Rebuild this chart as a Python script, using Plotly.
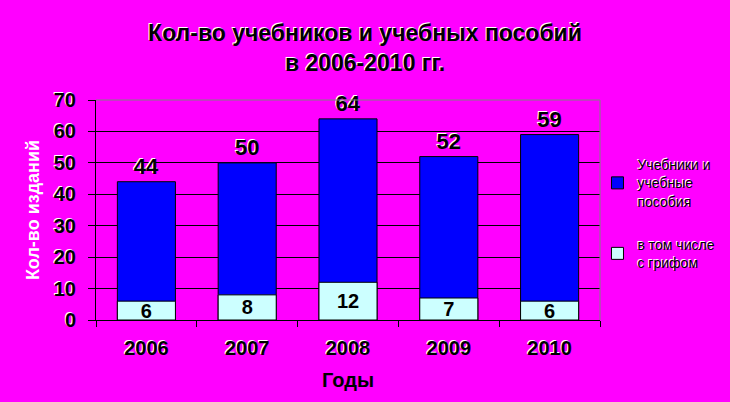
import plotly.graph_objects as go

years = ["2006", "2007", "2008", "2009", "2010"]
total_books = [44, 50, 64, 52, 59]
with_stamp = [6, 8, 12, 7, 6]
y_ticks = [0, 10, 20, 30, 40, 50, 60, 70]

FONT = "Liberation Sans, Arial, sans-serif"
SHADOW = "-1px -1px 0px white"

fig = go.Figure()
fig.add_trace(go.Bar(
    x=years, y=total_books, name="Учебники и<br>учебные<br>пособия",
    legendgroup="a",
    marker=dict(color="#0000FF", line=dict(color="black", width=1)),
    width=0.576,
    text=total_books, textposition="outside", cliponaxis=False,
    textfont=dict(family=FONT, size=22, color="black", weight="bold", shadow=SHADOW),
))
fig.add_trace(go.Bar(
    x=years, y=with_stamp, name="в том числе<br>с грифом",
    legendgroup="b",
    marker=dict(color="#CCFFFF", line=dict(color="black", width=1)),
    width=0.576,
    text=with_stamp, textposition="inside", insidetextanchor="middle",
    textangle=0, constraintext="none",
    textfont=dict(family=FONT, size=20, color="black", weight="bold"),
))

fig.update_layout(
    width=730, height=402,
    paper_bgcolor="#FF00FF", plot_bgcolor="#FF00FF",
    barmode="overlay",
    margin=dict(l=96, r=130, t=100, b=82, autoexpand=False),
    font=dict(family=FONT, color="black"),
    title=dict(
        text="Кол-во учебников и учебных пособий<br>в 2006-2010 гг.",
        x=0.5, xref="container", xanchor="center",
        yref="container", y=0.897, yanchor="middle",
        font=dict(family=FONT, size=23, color="black", weight="bold", shadow=SHADOW),
    ),
    legend=dict(
        x=0.995, y=0.777, xanchor="left", yanchor="top",
        bgcolor="rgba(0,0,0,0)", traceorder="grouped", tracegroupgap=22,
        font=dict(family=FONT, size=14, color="black", shadow=SHADOW),
        itemwidth=30,
    ),
    showlegend=True,
)
fig.update_xaxes(
    type="category", showline=True, linecolor="black", linewidth=1,
    ticks="outside", tickson="boundaries", ticklen=6, tickcolor="black",
    ticklabelstandoff=10,
    tickfont=dict(family=FONT, size=20, color="black", weight="bold", shadow=SHADOW),
    title=dict(text="Годы", standoff=14,
               font=dict(family=FONT, size=20, color="black", weight="bold")),
    showgrid=False,
)
fig.update_yaxes(
    range=[0, 70], tickvals=y_ticks, showline=True, linecolor="black", linewidth=1,
    ticks="outside", ticklen=7, tickcolor="black", ticklabelstandoff=8,
    showgrid=True, gridcolor="black", gridwidth=1, zeroline=False,
    tickfont=dict(family=FONT, size=20, color="black", weight="bold", shadow=SHADOW),
    title=dict(text="Кол-во изданий", standoff=9,
               font=dict(family=FONT, size=18, color="white", weight="bold")),
)
fig.add_shape(type="line", xref="paper", yref="paper", x0=0, x1=1, y0=1, y1=1,
              line=dict(color="#808080", width=1), layer="above")
fig.add_shape(type="line", xref="paper", yref="paper", x0=1, x1=1, y0=0, y1=1,
              line=dict(color="#808080", width=1), layer="above")

fig.write_html("out.html", config={"displayModeBar": False},
               post_script="document.body.style.margin='0';document.body.style.overflow='hidden';")
